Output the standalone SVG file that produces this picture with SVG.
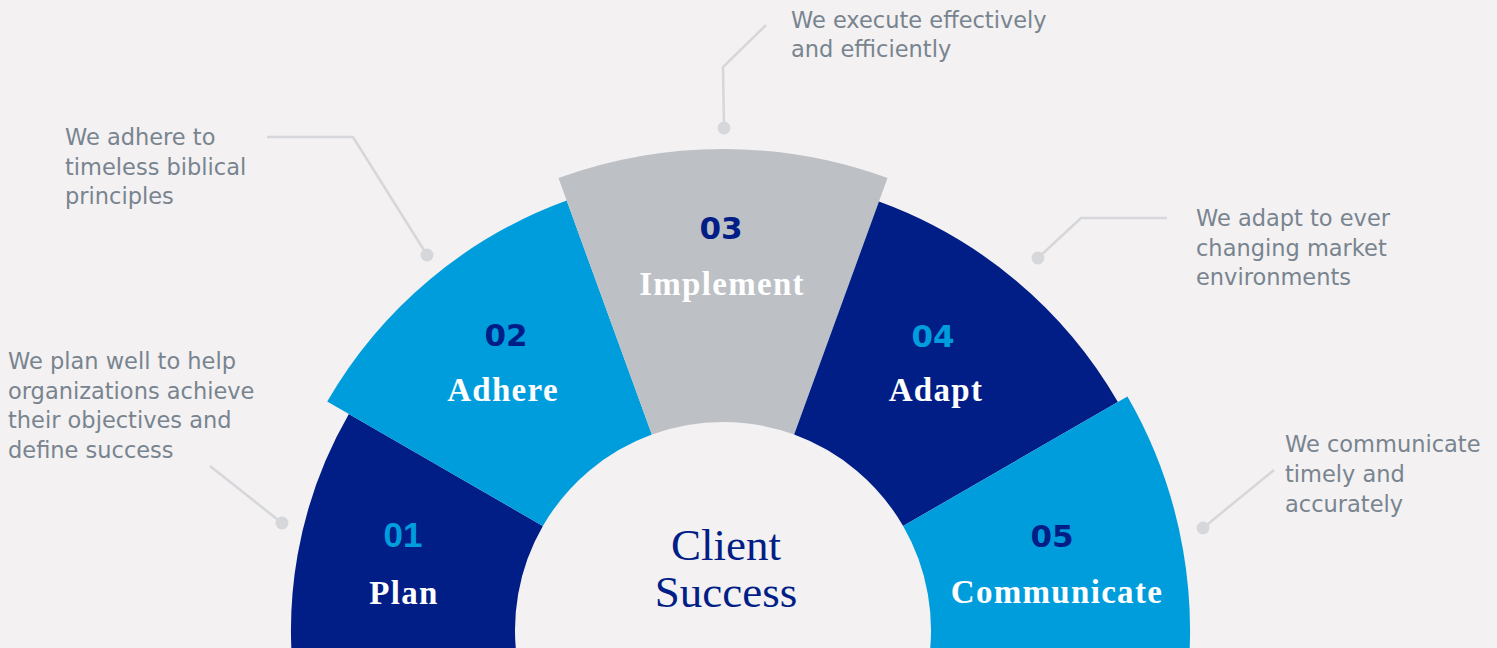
<svg xmlns="http://www.w3.org/2000/svg" width="1497" height="648" viewBox="0 0 1497 648">
<style>
.navy{fill:#011e87}
.blue{fill:#009ddd}
.gray{fill:#bdc0c4}
.desc{font-family:"DejaVu Sans",Verdana,sans-serif;font-size:22.5px;fill:#78848f}
.num{font-family:"DejaVu Sans","Open Sans",sans-serif;font-weight:bold;font-size:31px;text-anchor:middle}
.lbl{font-family:"Liberation Serif","Times New Roman",serif;font-weight:bold;font-size:33px;letter-spacing:1.3px;fill:#ffffff;text-anchor:middle}
.ctr{font-family:"Liberation Serif","Times New Roman",serif;font-size:45px;fill:#011e87;text-anchor:middle}
.conn{fill:none;stroke:#d6d7da;stroke-width:2.5}
.dot{fill:#d6d7da}
</style>
<rect x="0" y="0" width="1497" height="648" fill="#f3f1f2"/>
<g id="connectors">
<polyline class="conn" points="210,466 282,523"/>
<circle class="dot" cx="282" cy="523" r="6.5"/>
<polyline class="conn" points="267,137 353,137 427,255"/>
<circle class="dot" cx="427" cy="255" r="6.5"/>
<polyline class="conn" points="766,25 723,67 724,128"/>
<circle class="dot" cx="724" cy="128" r="6.5"/>
<polyline class="conn" points="1167,218 1081,218 1038,258"/>
<circle class="dot" cx="1038" cy="258" r="6.5"/>
<polyline class="conn" points="1274,470 1203,528"/>
<circle class="dot" cx="1203" cy="528" r="6.5"/>
</g>
<g id="node-plan">
<path class="navy" d="M297.56 705.02 A432 432 0 0 1 348.88 414 L542.87 526 A208 208 0 0 0 518.16 666.12 Z"/>
<text class="num" x="403" y="547" style="font-family:'Liberation Sans',Arial,sans-serif;font-size:35px" fill="#009ddd">01</text>
<text class="lbl" x="404" y="604">Plan</text>
<text class="desc"><tspan x="8" y="369">We plan well to help</tspan><tspan x="8" y="398.5">organizations achieve</tspan><tspan x="8" y="428">their objectives and</tspan><tspan x="8" y="457.5">define success</tspan></text>
</g>
<g id="node-adhere">
<path class="blue" d="M327.22 401.5 A457 457 0 0 1 566.7 200.56 L651.86 434.54 A208 208 0 0 0 542.87 526 Z"/>
<text class="num" x="506" y="346" fill="#011e87">02</text>
<text class="lbl" x="503" y="401">Adhere</text>
<text class="desc"><tspan x="65" y="145">We adhere to</tspan><tspan x="65" y="175">timeless biblical</tspan><tspan x="65" y="204">principles</tspan></text>
</g>
<g id="node-implement">
<path class="gray" d="M558.49 178 A481 481 0 0 1 887.51 178 L794.14 434.54 A208 208 0 0 0 651.86 434.54 Z"/>
<text class="num" x="721" y="239" fill="#011e87">03</text>
<text class="lbl" x="722" y="295">Implement</text>
<text class="desc"><tspan x="791" y="27.5">We execute effectively</tspan><tspan x="791" y="57">and efficiently</tspan></text>
</g>
<g id="node-adapt">
<path class="navy" d="M878.96 201.5 A456 456 0 0 1 1117.91 402 L903.13 526 A208 208 0 0 0 794.14 434.54 Z"/>
<text class="num" x="933" y="347" fill="#009ddd">04</text>
<text class="lbl" x="936" y="401">Adapt</text>
<text class="desc"><tspan x="1196" y="226">We adapt to ever</tspan><tspan x="1196" y="256">changing market</tspan><tspan x="1196" y="285">environments</tspan></text>
</g>
<g id="node-communicate">
<path class="blue" d="M1127.44 396.5 A467 467 0 0 1 1182.91 711.09 L927.84 666.12 A208 208 0 0 0 903.13 526 Z"/>
<text class="num" x="1052" y="547" fill="#011e87">05</text>
<text class="lbl" x="1057" y="603">Communicate</text>
<text class="desc"><tspan x="1285" y="452">We communicate</tspan><tspan x="1285" y="482">timely and</tspan><tspan x="1285" y="512">accurately</tspan></text>
</g>
<g id="node-center">
<text class="ctr" x="726" y="560">Client</text>
<text class="ctr" x="726" y="607">Success</text>
</g>
</svg>
